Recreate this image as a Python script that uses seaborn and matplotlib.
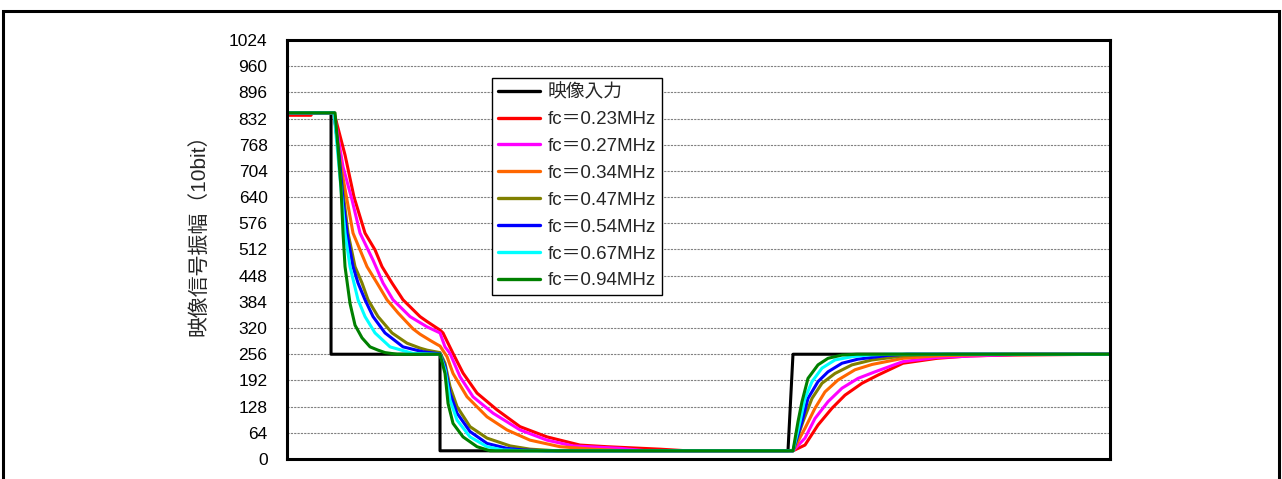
import matplotlib
matplotlib.use("Agg")
import matplotlib.pyplot as plt
import seaborn as sns
from matplotlib.patches import Rectangle

# -------------------------------------
# Data (sample index vs. 10bit amplitude)
# -------------------------------------
x_input = [0, 44, 44, 153, 153, 501, 506, 823]
y_input = [846, 846, 256, 256, 20, 20, 256, 256]

x_023 = [0, 24, 25, 47, 58, 67, 78, 88, 95, 105, 116, 133, 140, 153, 156, 166, 176, 190, 210, 233,
         260, 293, 320, 373, 400, 506, 518, 531, 545, 558, 575, 591, 616, 650, 683, 726, 823]
y_023 = [840, 840, 846, 846, 743, 640, 552, 511, 470, 430, 389, 348, 336, 315, 308, 258, 210, 161, 120, 79,
         54, 34, 30, 24, 20, 20, 34, 83, 124, 156, 185, 205, 234, 246, 252, 254, 256]

x_027 = [0, 47, 56, 65, 73, 86, 96, 106, 123, 140, 153, 158, 163, 173, 186, 206, 233, 260, 286, 333,
         360, 506, 518, 528, 541, 555, 571, 588, 616, 650, 700, 740, 823]
y_027 = [846, 846, 714, 633, 552, 486, 430, 389, 348, 323, 308, 274, 258, 201, 152, 112, 71, 46, 32, 26,
         20, 20, 51, 99, 140, 173, 197, 213, 238, 248, 253, 256, 256]

x_034 = [0, 47, 54, 60, 66, 73, 80, 90, 100, 111, 126, 133, 143, 150, 153, 160, 166, 180, 200, 220,
         243, 273, 306, 340, 506, 518, 528, 538, 551, 568, 585, 616, 650, 683, 720, 823]
y_034 = [846, 846, 714, 633, 552, 511, 470, 430, 389, 357, 318, 305, 290, 280, 276, 250, 209, 152, 103, 71,
         46, 30, 24, 20, 20, 75, 124, 164, 193, 218, 231, 246, 252, 254, 256, 256]

x_047 = [0, 47, 52, 57, 61, 68, 75, 81, 91, 105, 120, 133, 140, 153, 158, 163, 170, 183, 200, 223,
         243, 270, 506, 516, 525, 535, 548, 565, 585, 598, 616, 633, 660, 823]
y_047 = [846, 846, 740, 633, 552, 470, 430, 389, 348, 308, 283, 271, 266, 260, 234, 177, 128, 79, 51, 32,
         24, 20, 20, 91, 148, 185, 209, 230, 242, 246, 252, 254, 256, 256]

x_054 = [0, 47, 52, 56, 60, 66, 71, 78, 86, 98, 116, 136, 153, 158, 163, 170, 183, 200, 220, 236,
         260, 506, 515, 521, 531, 541, 555, 571, 591, 600, 620, 823]
y_054 = [846, 846, 740, 633, 552, 470, 430, 389, 348, 308, 274, 262, 257, 226, 161, 112, 67, 38, 26, 22,
         20, 20, 91, 148, 189, 213, 234, 244, 250, 253, 256, 256]

x_067 = [0, 47, 51, 55, 58, 63, 71, 78, 88, 103, 126, 150, 153, 158, 163, 170, 183, 200, 216, 240,
         506, 513, 518, 525, 535, 548, 565, 581, 600, 823]
y_067 = [846, 846, 740, 633, 552, 470, 389, 348, 308, 274, 258, 256, 256, 218, 144, 95, 54, 30, 22, 20,
         20, 91, 148, 189, 222, 242, 250, 254, 256, 256]

x_094 = [0, 48, 51, 54, 56, 58, 63, 68, 75, 83, 91, 98, 110, 153, 158, 161, 166, 176, 190, 203,
         506, 511, 515, 521, 531, 541, 555, 570, 823]
y_094 = [846, 846, 760, 662, 552, 470, 380, 327, 296, 274, 266, 260, 256, 256, 209, 136, 87, 54, 30, 20,
         20, 91, 140, 197, 230, 246, 254, 256, 256]

labels = ["fc＝0.23MHz", "fc＝0.27MHz", "fc＝0.34MHz", "fc＝0.47MHz",
          "fc＝0.54MHz", "fc＝0.67MHz", "fc＝0.94MHz"]
colors = ["#FF0000", "#FF00FF", "#FF6600", "#808000", "#0000FF", "#00FFFF", "#008000"]
curves = [(x_023, y_023), (x_027, y_027), (x_034, y_034), (x_047, y_047),
          (x_054, y_054), (x_067, y_067), (x_094, y_094)]

# -------------------------------------
# Plot
# -------------------------------------
sns.set_style("white")
plt.rcParams['font.family'] = ['Liberation Sans', 'Noto Sans CJK JP']

fig = plt.figure(figsize=(12.82, 4.79), dpi=100)
ax = fig.add_axes([0.2239, 0.0418, 0.6419, 0.8747])

sns.lineplot(x=x_input, y=y_input, color="black", linewidth=2.2, label="映像入力",
             estimator=None, sort=False, ax=ax)
for (xs, ys), lab, col in zip(curves, labels, colors):
    sns.lineplot(x=xs, y=ys, color=col, linewidth=2.2, label=lab,
                 estimator=None, sort=False, ax=ax)

ax.set_xlim(0, 823)
ax.set_ylim(0, 1024)
ax.set_xticks([])
ax.set_yticks(range(0, 1025, 64))
ax.tick_params(axis="y", length=0, pad=14, labelsize=12.5, colors="black")
ax.yaxis.grid(True, linestyle=(0, (2, 1)), color="#808080", linewidth=0.8)
ax.set_axisbelow(True)
for sp in ax.spines.values():
    sp.set_visible(True)
    sp.set_color("black")
    sp.set_linewidth(2.2)

ax.set_xlabel("")
ax.set_ylabel("映像信号振幅（10bit）", fontsize=15)
ax.yaxis.set_label_coords(-0.096, 0.546)

leg = ax.legend(loc="upper left", bbox_to_anchor=(0.249, 0.909), borderaxespad=0,
                frameon=True, fancybox=False, edgecolor="black", framealpha=1,
                fontsize=13.5, handlelength=2.24, labelspacing=0.52, handletextpad=0.45,
                borderpad=0.3)
leg.get_frame().set_linewidth(1.0)
for ln in leg.get_lines():
    ln.set_linewidth(2.4)

# outer frame around the whole chart
fig.patches.append(Rectangle((3 / 1282, -0.02), 1276 / 1282, 1.02 - 11 / 479,
                             transform=fig.transFigure, fill=False,
                             edgecolor="black", linewidth=2.2))

fig.savefig("out.png", dpi=100)
